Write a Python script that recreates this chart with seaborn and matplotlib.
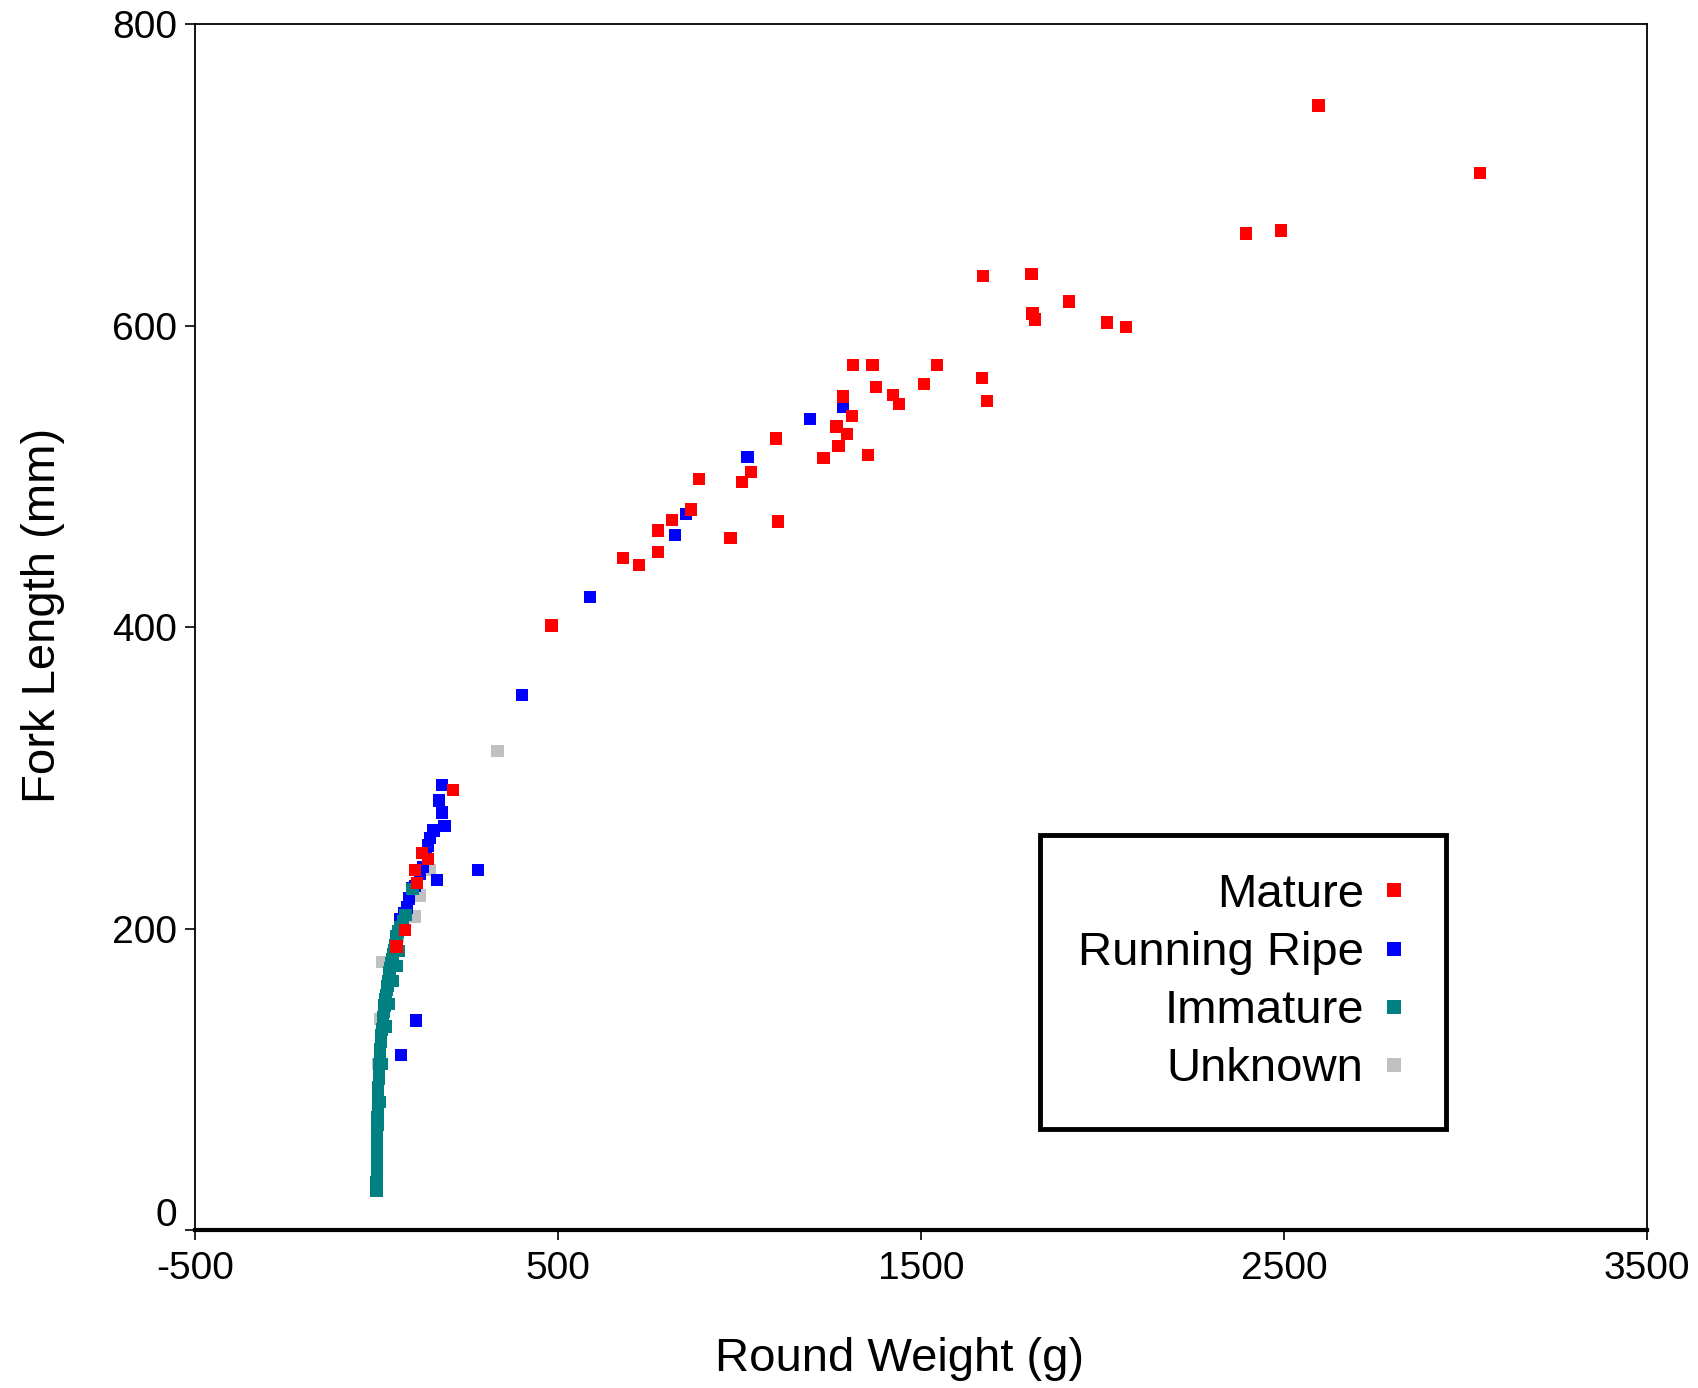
import numpy as np
import pandas as pd
import seaborn as sns
import matplotlib.pyplot as plt
from matplotlib.transforms import ScaledTranslation

# Mature
mature_w = [2595, 3040, 2396, 2491, 1670, 1804, 1908, 1807, 1813, 2013, 2064,
            1312, 1366, 1545, 1509, 1667, 1375, 1285, 1422, 1440, 1682, 1309,
            1267, 1297, 1273, 1231, 1354, 1100, 1031, 1007, 888, 1106, 975,
            867, 813, 775, 775, 679, 724, 482, 210, 125, 142, 106, 112, 55, 79]
mature_l = [746, 701, 661, 663, 633, 634, 616, 608, 604, 602, 599,
            574, 574, 574, 561, 565, 559, 553, 554, 548, 550, 540,
            533, 528, 520, 512, 514, 525, 503, 496, 498, 470, 459,
            478, 471, 464, 450, 446, 441, 401, 292, 250, 246, 239, 230, 188, 199]

# Running Ripe
ripe_w = [1285, 1195, 1022, 852, 822, 589, 401, 279, 166, 109, 67, 181, 172,
          181, 187, 157, 148, 142, 127, 97, 84, 64, 120, 112, 135, 75, 90, 105]
ripe_l = [546, 538, 513, 475, 461, 420, 355, 239, 232, 139, 116, 295, 285,
          277, 268, 265, 260, 255, 241, 227, 214, 206, 236, 230, 250, 210, 220, 228]

# Immature
immature_w = [0, 0, 1, 1, 1, 2, 2, 2, 3, 3, 4, 4, 5, 5, 6, 7, 8, 9, 10, 12,
              13, 15, 17, 18, 20, 22, 24, 26, 28, 30, 32, 34, 36, 38, 40, 42,
              45, 48, 50, 53, 55, 60, 65, 72, 80, 99, 10, 15, 25, 35, 45, 55, 62]
immature_l = [26, 32, 38, 44, 50, 55, 60, 65, 70, 75, 80, 85, 90, 95, 100, 105,
              110, 115, 120, 125, 129, 133, 137, 141, 145, 149, 153, 156, 159,
              162, 165, 168, 171, 174, 177, 180, 183, 186, 189, 192, 195, 198,
              201, 205, 209, 226, 85, 110, 135, 150, 165, 175, 185]

# Unknown
unknown_w = [333, 15, 106, 148, 10, 5, 60, 120]
unknown_l = [318, 178, 208, 239, 140, 110, 195, 222]

stages = ["Mature", "Running Ripe", "Immature", "Unknown"]
colors = ["#FF0000", "#0000FF", "#008080", "#C0C0C0"]

# drawing order: unknown at the back, mature on top
df = pd.concat([
    pd.DataFrame({"w": unknown_w, "l": unknown_l, "stage": "Unknown"}),
    pd.DataFrame({"w": ripe_w, "l": ripe_l, "stage": "Running Ripe"}),
    pd.DataFrame({"w": immature_w, "l": immature_l, "stage": "Immature"}),
    pd.DataFrame({"w": mature_w, "l": mature_l, "stage": "Mature"}),
], ignore_index=True)

sns.set_theme(style="white")
plt.rcParams['font.family'] = ['Liberation Sans', 'DejaVu Sans']
plt.rcParams['text.color'] = 'black'
plt.rcParams['axes.unicode_minus'] = False

fig = plt.figure(figsize=(16.99, 13.88), dpi=100)
ax = fig.add_axes([0.1148, 0.1138, 0.8546, 0.8689])

sns.scatterplot(data=df, x="w", y="l", hue="stage", hue_order=stages,
                palette=dict(zip(stages, colors)), marker="s", s=78,
                linewidth=0, ax=ax)

ax.set_xlim(-500, 3500)
ax.set_ylim(0, 800)
ax.set_xticks([-500, 500, 1500, 2500, 3500])
ax.set_yticks([0, 200, 400, 600, 800])
ax.tick_params(axis="x", direction="out", length=7, width=1.2, pad=8,
               labelsize=28, bottom=True, colors="black")
ax.tick_params(axis="y", direction="out", length=7, width=1.2, pad=6,
               labelsize=28, left=True, colors="black")
for side, sp in ax.spines.items():
    sp.set_color("black")
    sp.set_linewidth(1.3)
ax.spines["bottom"].set_linewidth(3)

# the "0" label sits a bit above its tick
lab0 = ax.get_yticklabels()[0]
lab0.set_transform(lab0.get_transform() + ScaledTranslation(0, 13 / 72, fig.dpi_scale_trans))

ax.set_xlabel("Round Weight (g)", fontsize=34, labelpad=36, color="black")
ax.set_ylabel("Fork Length (mm)", fontsize=34, labelpad=34, color="black")
ax.xaxis.label.set_x(0.485)
ax.yaxis.label.set_y(0.51)

handles, labels = ax.get_legend_handles_labels()
leg = ax.legend(handles, labels, loc="lower left", bbox_to_anchor=(0.582, 0.0836),
                borderaxespad=0, markerfirst=False, fontsize=34, frameon=True,
                fancybox=False, edgecolor="black", framealpha=1,
                labelspacing=0.3, handletextpad=0.34, handlelength=0.6,
                borderpad=0.8, markerscale=1.2)
leg.get_frame().set_linewidth(3.5)
for t in leg.get_texts():
    t.set_ha("right")
    t.set_color("black")
leg._legend_box.align = "right"

fig.savefig("out.png", dpi=100)
